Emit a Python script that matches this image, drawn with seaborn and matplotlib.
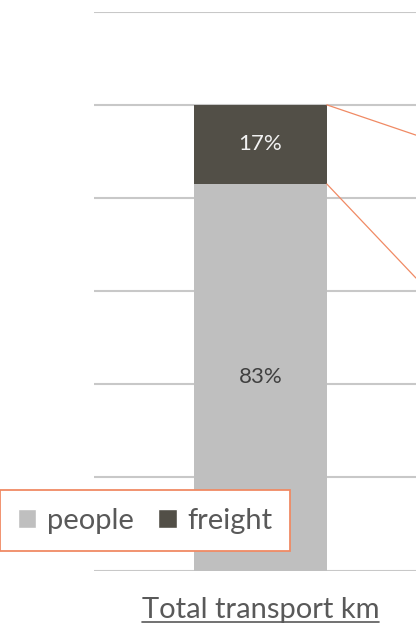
import numpy as np
import pandas as pd
import seaborn as sns
import matplotlib.pyplot as plt
from matplotlib.patches import Patch
from matplotlib.lines import Line2D

# data
categories = ['Total transport km']
people = [0.83]
freight = [0.17]
series = ['people', 'freight']
y_ticks = [0.0, 0.2, 0.4, 0.6, 0.8, 1.0, 1.2]
# where the zoom connectors leave the right edge (they point at a chart outside the crop)
connector_ends = [0.935, 0.628]

grey = '#bfbfbf'
dark = '#524f47'
orange = '#f08a64'
text_grey = '#595959'

sns.set_style('white')
plt.rcParams['font.family'] = ['Lato', 'DejaVu Sans']

df = pd.DataFrame({'category': categories, 'people': people, 'freight': freight})
df['total'] = df['people'] + df['freight']

fig = plt.figure(figsize=(4.16, 6.26), dpi=100)
ax = fig.add_axes([94 / 416, 55.5 / 626, 322 / 416, 559 / 626])

# stacked bar: full height in freight colour, people drawn on top of it
sns.barplot(data=df, x='category', y='total', color=dark, width=0.4,
            saturation=1, errorbar=None, linewidth=0, ax=ax)
sns.barplot(data=df, x='category', y='people', color=grey, width=0.4,
            saturation=1, errorbar=None, linewidth=0, ax=ax)

ax.set_ylim(0, 1.2005)
ax.set_xlim(-0.5, 0.468)
ax.set_yticks(y_ticks)
ax.set_yticklabels([])
ax.yaxis.grid(True, color='#c8c8c8', linewidth=1.5)
ax.set_axisbelow(True)
for s in ax.spines.values():
    s.set_visible(False)
ax.set_xlabel('')
ax.set_ylabel('')
ax.tick_params(axis='x', length=0, pad=19, labelsize=21, labelcolor=text_grey)
ax.tick_params(axis='y', length=0)

# percentage labels
for i in range(len(categories)):
    ax.text(i, people[i] / 2, f'{people[i]:.0%}', ha='center', va='center',
            fontsize=16, color='#404040')
    ax.text(i, people[i] + freight[i] / 2, f'{freight[i]:.0%}', ha='center',
            va='center', fontsize=16, color='#f2f2f2')

# orange connector lines from the bar's right edge
edge = 0 + 0.2
for y0, y1 in zip([df['total'][0], people[0]], connector_ends):
    ax.plot([edge, 0.468], [y0, y1], color=orange, lw=0.9, clip_on=False)

handles = [Patch(facecolor=grey), Patch(facecolor=dark)]
leg = fig.legend(handles, series, loc='upper left',
                 bbox_to_anchor=(0.0, 1 - 490 / 626), borderaxespad=0,
                 ncol=2, fontsize=21,
                 frameon=True, fancybox=False, edgecolor=orange,
                 facecolor='white', framealpha=1,
                 handlelength=0.65, handleheight=0.65, handletextpad=0.35,
                 columnspacing=0.85, borderpad=0.6, labelcolor=text_grey)
leg.get_frame().set_linewidth(1.3)

# underline the category label
fig.canvas.draw()
r = fig.canvas.get_renderer()
for lab in ax.get_xticklabels():
    bb = lab.get_window_extent(r)
    fig.add_artist(Line2D([bb.x0 / 416, bb.x1 / 416],
                          [(bb.y0 + 1) / 626, (bb.y0 + 1) / 626],
                          color=text_grey, lw=1.2))

fig.savefig('out.png', dpi=100)
